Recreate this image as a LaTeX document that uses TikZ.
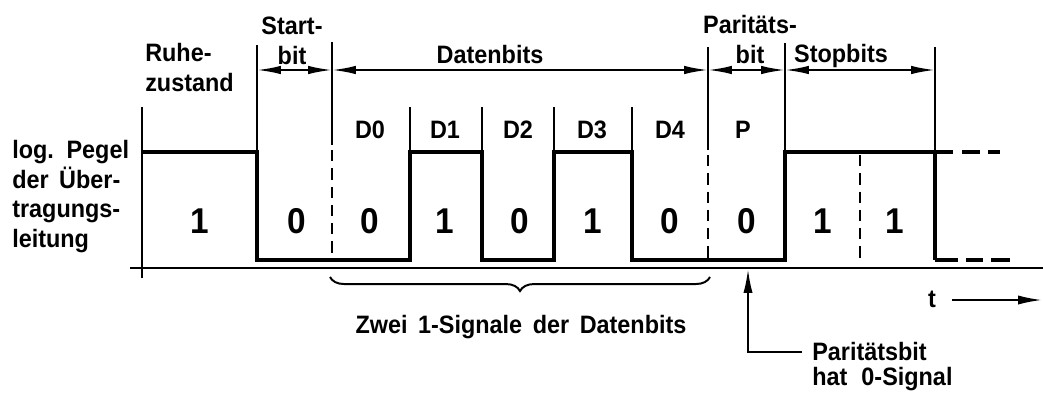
\documentclass[tikz,border=0pt]{standalone}
\usepackage{fontspec}
\newfontfamily\dinfont{Liberation Sans}[FakeStretch=0.93]
\newcommand\dinspace[1]{\spaceskip=#1\relax}
\usetikzlibrary{arrows.meta,decorations.pathreplacing}
\tikzset{
  lbl/.style={font=\dinfont\bfseries\fontsize{17.9}{21}\selectfont\dinspace{7.5pt}, inner sep=0pt},
  note/.style={font=\dinfont\bfseries\fontsize{17.9}{17.8}\selectfont\dinspace{10pt}, inner sep=0pt},
  bitval/.style={font=\dinfont\bfseries\fontsize{25.5}{26}\selectfont, inner sep=0pt, anchor=base},
  sig/.style={line width=2.8pt},
  ext/.style={line width=1.4pt},
  dashline/.style={line width=1.4pt, dash pattern=on 8pt off 5pt},
  tip/.style={-{Latex[length=17pt,width=6.5pt]}},
  dim/.style={line width=1.4pt, {Latex[length=17pt,width=6pt]}-{Latex[length=17pt,width=6pt]}},
}
\begin{document}
\begin{tikzpicture}[x=0.025cm,y=-0.025cm]
\useasboundingbox (0,0) rectangle (1043,396);
\draw[ext] (130,268) -- (1043,268);
\draw[ext] (142,107) -- (142,278);
\draw[sig] (142,152) -- (257,152) -- (257,260) -- (410,260) -- (410,152) -- (482,152) -- (482,260)
  -- (554,260) -- (554,152) -- (632,152) -- (632,260) -- (785,260) -- (785,152) -- (935,152) -- (935,260);
\draw[sig, dash pattern=on 13pt off 6pt] (935,152) -- (1000,152);
\draw[sig, dash pattern=on 16pt off 6pt on 12pt off 6pt] (935,260) -- (1010,260);
\coordinate (d0) at (257,70);
\coordinate (d1) at (332,70);
\coordinate (d2) at (708,70);
\coordinate (d3) at (785,70);
\coordinate (d4) at (935,70);
\draw[ext] (257,45) -- (257,152);
\draw[ext] (332,42) -- (332,145);
\draw[ext] (708,47) -- (708,150);
\draw[ext] (785,43) -- (785,152);
\draw[ext] (935,47) -- (935,152);
\draw[dashline] (332,150) -- (332,260);
\draw[dashline] (708,155) -- (708,260);
\draw[dashline] (860,155) -- (860,260);
\foreach \x in {410,482,554,632}
  \draw[ext] (\x,107) -- (\x,152);
\draw[dim] (d0) -- (d1);
\draw[dim] (d1) -- (d2);
\draw[dim] (d2) -- (d3);
\draw[dim] (d3) -- (d4);
\node[lbl, anchor=north west, align=left] (ruhe) at (145,43) {Ruhe-\\zustand};
\node[lbl, anchor=north, align=center] (start) at (292,17) {Start-\\bit};
\node[lbl, anchor=base] (daten) at (490,63) {Datenbits};
\node[lbl, anchor=north, align=center] (paritaet) at (750,15) {Paritäts-\\bit};
\node[lbl, anchor=base] (stop) at (841,62) {Stopbits};
\node[lbl, anchor=base] (dz) at (370,138) {D0};
\node[lbl, anchor=base] (de) at (445,138) {D1};
\node[lbl, anchor=base] (dd) at (518,138) {D2};
\node[lbl, anchor=base] (dt) at (592,138) {D3};
\node[lbl, anchor=base] (dv) at (670,138) {D4};
\node[lbl, anchor=base] (dp) at (743,138) {P};
\node[lbl, anchor=north west, align=left] (pegel) at (12,140) {log. Pegel\\der Über-\\tragungs-\\leitung};
\node[bitval] (v0) at (200,233) {1};
\node[bitval] (v1) at (297,233) {0};
\node[bitval] (v2) at (370,233) {0};
\node[bitval] (v3) at (445,233) {1};
\node[bitval] (v4) at (520,233) {0};
\node[bitval] (v5) at (593,233) {1};
\node[bitval] (v6) at (670,233) {0};
\node[bitval] (v7) at (747,233) {0};
\node[bitval] (v8) at (823,233) {1};
\node[bitval] (v9) at (895,233) {1};
\draw[ext, decorate, decoration={brace, mirror, amplitude=10pt}] (330,277) -- (710,277);
\node[lbl, anchor=base] (zwei) at (521,333) {Zwei 1-Signale der Datenbits};
\node[lbl, anchor=base] (t) at (932,307) {t};
\coordinate (ta) at (952,300);
\coordinate (tb) at (1042,300);
\draw[ext, tip] (ta) -- (tb);
\node[note, anchor=north west, align=left] (pbit) at (812,342) {Paritätsbit\\hat 0-Signal};
\coordinate (pk) at (802,352);
\coordinate (pa) at (748,269);
\draw[ext, tip] (pk) -| (pa);
\end{tikzpicture}
\end{document}
